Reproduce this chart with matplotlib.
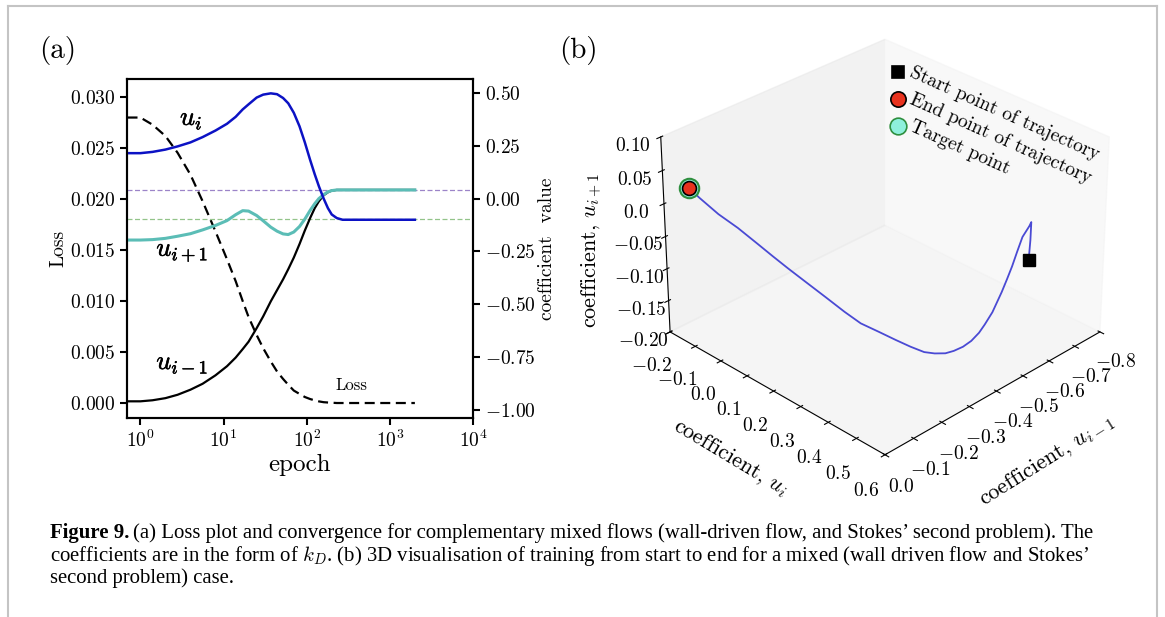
import matplotlib
matplotlib.use('Agg')
import matplotlib.pyplot as plt
import matplotlib.patheffects as pe
from matplotlib.lines import Line2D
from matplotlib.ticker import NullLocator

plt.rcParams.update({
    'font.family': 'serif',
    'font.serif': ['cmr10'],
    'mathtext.fontset': 'cm',
    'axes.formatter.use_mathtext': True,
    'font.size': 14,
})

# ---- (a) loss and coefficients against epoch ----
epoch = [0.7, 1, 1.4, 2, 2.8, 4, 5.6, 8, 11, 14, 17, 20, 25, 30, 37, 44, 52,
         60, 70, 82, 95, 110, 125, 140, 160, 180, 200, 230, 270, 350, 500,
         1000, 2000]
loss = [0.02798, 0.02798, 0.02728, 0.02617, 0.02453, 0.02238, 0.01978,
        0.01682, 0.01409, 0.01194, 0.00999, 0.00843, 0.00667, 0.00537,
        0.00407, 0.00309, 0.00236, 0.00179, 0.00122, 0.00089, 0.00059,
        0.00039, 0.00026, 0.00016, 0.00008, 0.00005, 0.00003, 0.0, 0.0, 0.0,
        0.0, 0.0, 0.0]
u_i = [0.215, 0.215, 0.221, 0.232, 0.247, 0.266, 0.291, 0.322, 0.354, 0.387,
       0.422, 0.446, 0.478, 0.492, 0.498, 0.494, 0.476, 0.451, 0.406, 0.342,
       0.266, 0.183, 0.115, 0.059, 0.000, -0.045, -0.075, -0.092, -0.100,
       -0.100, -0.100, -0.100, -0.100]
u_ip1 = [-0.196, -0.196, -0.194, -0.188, -0.178, -0.166, -0.148, -0.127,
         -0.104, -0.076, -0.057, -0.059, -0.080, -0.105, -0.135, -0.154,
         -0.167, -0.170, -0.158, -0.132, -0.097, -0.056, -0.024, 0.000, 0.019,
         0.032, 0.038, 0.041, 0.041, 0.041, 0.041, 0.041, 0.041]
u_im1 = [-0.959, -0.959, -0.954, -0.944, -0.928, -0.904, -0.876, -0.836,
         -0.793, -0.752, -0.712, -0.677, -0.613, -0.557, -0.486, -0.433,
         -0.382, -0.334, -0.279, -0.215, -0.151, -0.092, -0.045, -0.013,
         0.016, 0.030, 0.038, 0.041, 0.041, 0.041, 0.041, 0.041, 0.041]
target_a = 0.040    # purple dashed
target_b = -0.096   # green dashed

# ---- (b) 3D trajectory (u_{i-1}, u_i, u_{i+1}) ----
traj_im1 = [-0.678, -0.671, -0.661, -0.645, -0.606, -0.576, -0.547, -0.518,
            -0.488, -0.435, -0.392, -0.363, -0.335, -0.305, -0.277, -0.252,
            -0.224, -0.197, -0.169, -0.137, -0.108, -0.076, -0.055, -0.035,
            -0.026, -0.025, -0.023, -0.022, -0.021, -0.020, -0.020, -0.020]
traj_i = [0.450, 0.460, 0.470, 0.478, 0.490, 0.500, 0.510, 0.520, 0.530,
          0.548, 0.562, 0.570, 0.570, 0.570, 0.565, 0.560, 0.550, 0.540,
          0.520, 0.500, 0.470, 0.440, 0.405, 0.360, 0.300, 0.236, 0.184,
          0.131, 0.059, -0.012, -0.084, -0.123]
traj_ip1 = [-0.092, -0.058, -0.026, -0.027, -0.033, -0.047, -0.061, -0.072,
            -0.083, -0.098, -0.104, -0.108, -0.114, -0.116, -0.117, -0.116,
            -0.112, -0.106, -0.096, -0.083, -0.071, -0.058, -0.044, -0.028,
            -0.017, -0.010, -0.003, 0.004, 0.013, 0.019, 0.029, 0.036]
target_pt = (-0.020, -0.123, 0.036)

fig = plt.figure(figsize=(11.65, 6.17), dpi=100)

ax1 = fig.add_axes([0.109, 0.3225, 0.297, 0.5495])
ax1.plot(epoch, loss, color='k', ls='--', dashes=(4.5, 2.5), lw=1.6)
ax1.set_xscale('log')
ax1.set_xlim(0.69, 1e4)
ax1.set_ylim(-0.00147, 0.03176)
ax1.set_xticks([1, 10, 100, 1000, 10000])
ax1.xaxis.set_minor_locator(NullLocator())
ax1.set_yticks([0, 0.005, 0.010, 0.015, 0.020, 0.025, 0.030])
ax1.set_xlabel('epoch', fontsize=18, labelpad=2)
ax1.set_ylabel('Loss', fontsize=14, labelpad=2)

ax2 = ax1.twinx()
ax2.axhline(target_a, color='#9c84c8', ls='--', lw=0.9, dashes=(4, 2))
ax2.axhline(target_b, color='#93c48a', ls='--', lw=0.9, dashes=(4, 2))
ax2.plot(epoch, u_im1, color='k', lw=1.6)
ax2.plot(epoch, u_ip1, color='#5bbdb6', lw=2.2)
ax2.plot(epoch, u_i, color='#0c12c4', lw=1.8)
ax2.set_ylim(-1.038, 0.566)
ax2.set_yticks([-1.0, -0.75, -0.5, -0.25, 0.0, 0.25, 0.5])
ax2.set_ylabel('coefficient  value', fontsize=14, labelpad=2)

for a in (ax1, ax2):
    a.tick_params(direction='out', length=5, width=1.5, labelsize=14)
    for s in a.spines.values():
        s.set_linewidth(1.5)

bold = [pe.withStroke(linewidth=0.4, foreground='k')]
for lab, fx, fy in [('$u_i$', 0.186, 0.88), ('$u_{i+1}$', 0.16, 0.49),
                    ('$u_{i-1}$', 0.16, 0.16)]:
    ax1.text(fx, fy, lab, transform=ax1.transAxes, fontsize=19,
             ha='center', va='center', path_effects=bold)
ax1.text(0.649, 0.095, 'Loss', transform=ax1.transAxes, fontsize=12,
         ha='center', va='center')
fig.text(0.034, 0.918, '(a)', fontsize=21, va='center')

# ---- (b) ----
ax3 = fig.add_axes([0.52, 0.21, 0.468, 0.792], projection='3d')
ax3.computed_zorder = False
ax3.plot(traj_im1, traj_i, traj_ip1, color='#4a4ad4', lw=1.3, zorder=2)
ax3.plot([traj_im1[0]], [traj_i[0]], [traj_ip1[0]], 's', color='k', ms=8,
         zorder=3)
ax3.plot([target_pt[0]], [target_pt[1]], [target_pt[2]], 'o', ms=14,
         mfc='#8ef0dc', mec='#2f8f3f', mew=1.5, zorder=4)
ax3.plot([traj_im1[-1]], [traj_i[-1]], [traj_ip1[-1]], 'o', ms=10,
         mfc='#e8321e', mec='k', mew=1.2, zorder=5)
ax3.set_xlim(-0.8, 0.0)
ax3.set_ylim(-0.2, 0.6)
ax3.set_zlim(-0.2, 0.1)
ax3.set_box_aspect((4, 4, 2.9), zoom=0.98)
ax3.view_init(elev=30, azim=45)
ax3.grid(False)

xt = [-0.8, -0.7, -0.6, -0.5, -0.4, -0.3, -0.2, -0.1, 0.0]
yt = [-0.2, -0.1, 0.0, 0.1, 0.2, 0.3, 0.4, 0.5, 0.6]
zt = [-0.20, -0.15, -0.10, -0.05, 0.0, 0.05, 0.10]
ax3.set_xticks(xt)
ax3.set_xticklabels(['$\\mathdefault{%.1f}$' % v for v in xt])
ax3.set_yticks(yt)
ax3.set_yticklabels(['$\\mathdefault{%.1f}$' % v for v in yt])
ax3.set_zticks(zt)
ax3.set_zticklabels(['$\\mathdefault{0.0}$' if v == 0 else
                     '$\\mathdefault{%.2f}$' % v for v in zt])
ax3.tick_params(labelsize=14)
ax3.tick_params(axis='y', pad=7)
ax3.tick_params(axis='x', pad=5)
fig.text(592 / 1165, 1 - 250 / 617, 'coefficient, $u_{i+1}$', fontsize=16,
         rotation=90, ha='center', va='center')
fig.text(731 / 1165, 1 - 458 / 617, 'coefficient, $u_i$', fontsize=16,
         rotation=-31, rotation_mode='anchor', ha='center', va='center')
fig.text(1047 / 1165, 1 - 460 / 617, 'coefficient, $u_{i-1}$', fontsize=16,
         rotation=32, rotation_mode='anchor', ha='center', va='center')
fig.text(0.48, 0.918, '(b)', fontsize=21, va='center')

# legend drawn by hand, text rotated along the box
leg_items = [('s', 'k', 'k', 8, 'Start point of trajectory'),
             ('o', '#e8321e', 'k', 11, 'End point of trajectory'),
             ('o', '#8ef0dc', '#2f8f3f', 12, 'Target point')]
for k, (mk, fc, ec, ms, lab) in enumerate(leg_items):
    yy = 0.883 - k * 0.0435
    fig.add_artist(Line2D([0.771], [yy], marker=mk, ms=ms, mfc=fc, mec=ec,
                          mew=1.2, ls='none'))
    fig.text(0.782, yy, lab, fontsize=14, rotation=-24,
             rotation_mode='anchor', ha='left', va='center')

# ---- caption and frame ----
r = fig.canvas.get_renderer()
cap_kw = dict(fontsize=14.95, family='Liberation Serif', va='baseline')
t0 = fig.text(50 / 1165, 1 - 538 / 617, 'Figure 9.', weight='bold', **cap_kw)
bb = t0.get_window_extent(r)
fig.text((bb.x1 + 4) / 1165, 1 - 538 / 617,
         '(a) Loss plot and convergence for complementary mixed flows '
         '(wall-driven flow, and Stokes\u2019 second problem). The', **cap_kw)
fig.text(50 / 1165, 1 - 561 / 617,
         'coefficients are in the form of $k_D$. (b) 3D visualisation of '
         'training from start to end for a mixed (wall driven flow and '
         'Stokes\u2019', **cap_kw)
fig.text(50 / 1165, 1 - 583 / 617, 'second problem) case.', **cap_kw)

fcol = '#c4c4c4'
fig.add_artist(Line2D([8 / 1165, 8 / 1165], [0, 1 - 6 / 617], color=fcol, lw=1.5))
fig.add_artist(Line2D([8 / 1165, 1157 / 1165], [1 - 6 / 617, 1 - 6 / 617],
                      color=fcol, lw=1.5))
fig.add_artist(Line2D([1157 / 1165, 1157 / 1165], [0, 1 - 6 / 617], color=fcol,
                      lw=1.5))

fig.savefig('out.png', dpi=100)
